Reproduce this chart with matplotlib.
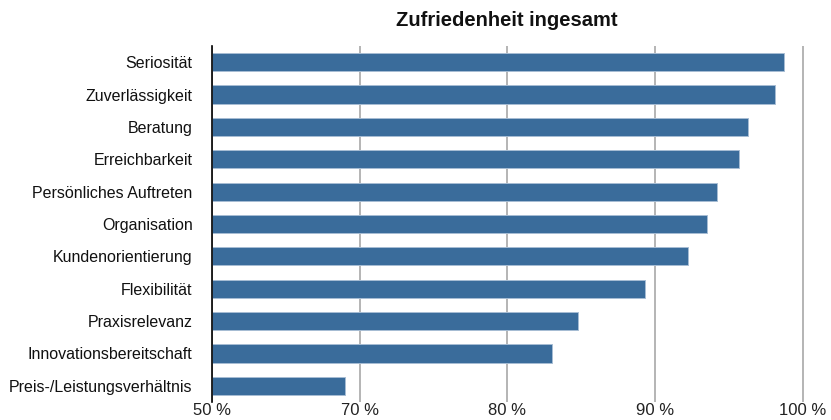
import matplotlib
matplotlib.use("Agg")
import matplotlib.pyplot as plt

plt.rcParams["font.family"] = ["Liberation Sans", "DejaVu Sans"]

categories = ["Seriosität", "Zuverlässigkeit", "Beratung", "Erreichbarkeit",
              "Persönliches Auftreten", "Organisation", "Kundenorientierung",
              "Flexibilität", "Praxisrelevanz", "Innovationsbereitschaft",
              "Preis-/Leistungsverhältnis"]
values = [98.7, 98.1, 96.3, 95.7, 94.2, 93.5, 92.2, 89.3, 84.8, 83.0, 69.0]
tick_pos = [60, 70, 80, 90, 100]
tick_labels = ["50 %", "70 %", "80 %", "90 %", "100 %"]
title = "Zufriedenheit ingesamt"

fig = plt.figure(figsize=(8.31, 4.2), dpi=100)
ax = fig.add_axes([212 / 831, 1 - 402 / 420, 1 - 212 / 831, (402 - 46) / 420])

y = range(len(categories))
ax.barh(y, [v - 60 for v in values], left=60, height=0.56,
        color="#3a6c9b", edgecolor="#a7bdd4", linewidth=0.7, zorder=3)

ax.set_xlim(60, 101.9)
ax.set_ylim(len(categories) - 0.5, -0.5)
ax.set_yticks(list(y))
ax.set_yticklabels(categories, fontsize=11.5, color="#111111")
ax.set_xticks(tick_pos)
ax.set_xticklabels(tick_labels, fontsize=12, color="#222222")
ax.tick_params(axis="y", length=0, pad=14)
ax.tick_params(axis="x", length=0, pad=1)

ax.grid(axis="x", color="#b4b4b4", linewidth=1.4, zorder=0)
for s in ["top", "right", "bottom"]:
    ax.spines[s].set_visible(False)
ax.spines["left"].set_color("black")
ax.spines["left"].set_linewidth(1.2)
ax.spines["left"].set_zorder(4)

fig.text(507 / 831, 1 - 20 / 420, title, ha="center", va="center",
         fontsize=14.5, fontweight="bold", color="#111111")

fig.savefig("out.png", dpi=100)
